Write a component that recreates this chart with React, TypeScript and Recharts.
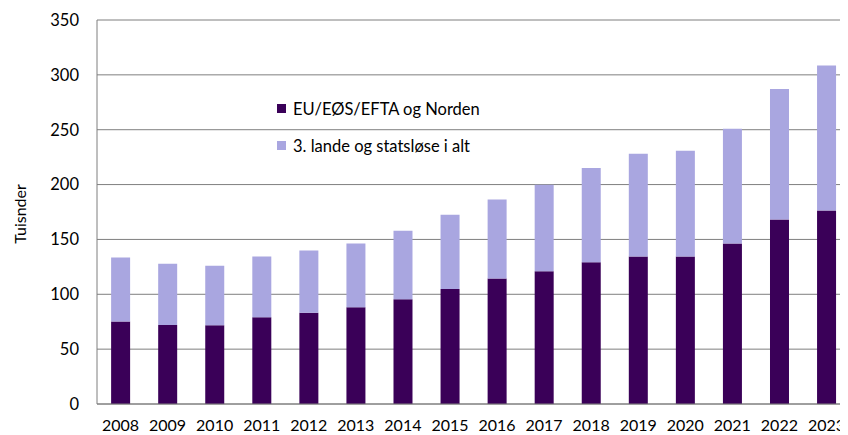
import React from "react";
import { BarChart, Bar, XAxis, YAxis, CartesianGrid, Legend } from "recharts";

const years = ["2008","2009","2010","2011","2012","2013","2014","2015","2016","2017","2018","2019","2020","2021","2022","2023"];
const euNorden = [75.3, 72.0, 71.7, 79.0, 83.2, 88.1, 95.4, 104.8, 114.5, 120.9, 129.1, 134.5, 134.5, 146.4, 168.2, 176.4];
const tredjeLande = [58.3, 55.9, 54.3, 55.5, 56.8, 58.3, 62.5, 67.7, 71.9, 78.9, 85.9, 93.5, 96.3, 104.4, 119.0, 132.1];
const yTicks = [0, 50, 100, 150, 200, 250, 300, 350];
const seriesKeys = ["eu", "tredje"];
const seriesNames = ["EU/EØS/EFTA og Norden", "3. lande og statsløse i alt"];

const data = years.map((y, i) => ({ year: y, eu: euNorden[i], tredje: tredjeLande[i] }));

const FONT = "Lato, 'Open Sans', sans-serif";
const DARK = "#3A0058";
const LIGHT = "#A9A6E0";

const renderLegend = (props: any) => {
  const payload = [...(props.payload || [])].sort(
    (a: any, b: any) => seriesKeys.indexOf(a.dataKey) - seriesKeys.indexOf(b.dataKey)
  );
  return (
    <div style={{ fontFamily: FONT, fontSize: 16.5, color: "#000" }}>
      {payload.map((p: any, i: number) => (
        <div key={i} style={{ display: "flex", alignItems: "center", height: 37, whiteSpace: "nowrap" }}>
          <span style={{ display: "inline-block", width: 9, height: 9, background: p.color, marginRight: 7 }} />
          <span>{p.value}</span>
        </div>
      ))}
    </div>
  );
};

const YLabel = () => (
  <text
    x={26}
    y={214}
    transform="rotate(-90 26 214)"
    textAnchor="middle"
    fontFamily={FONT}
    fontSize={16}
    fill="#000"
  >
    Tuisnder
  </text>
);

export default function App() {
  return (
    <div style={{ marginLeft: -8, marginTop: -8, width: 848, height: 435, overflow: "hidden" }}>
      <BarChart
        width={860}
        height={435}
        data={data}
        margin={{ top: 20, right: 10, bottom: 0, left: 0 }}
        barCategoryGap="30%"
      >
        <CartesianGrid vertical={false} stroke="#7f7f7f" strokeWidth={1} />
        <XAxis
          dataKey="year"
          height={31}
          tickLine={false}
          tickSize={0}
          tickMargin={16}
          axisLine={{ stroke: "#7f7f7f" }}
          tick={{ fontFamily: FONT, fontSize: 16, fill: "#000" }}
          interval={0}
        />
        <YAxis
          width={97}
          domain={[0, 350]}
          ticks={yTicks}
          tickLine={false}
          tickSize={0}
          tickMargin={18}
          axisLine={{ stroke: "#7f7f7f" }}
          tick={{ fontFamily: FONT, fontSize: 16.5, fill: "#000" }}
          label={<YLabel />}
        />
        <Legend
          layout="vertical"
          align="center"
          verticalAlign="middle"
          content={renderLegend}
          wrapperStyle={{ left: 277, top: 90, width: "auto" }}
        />
        <Bar dataKey="eu" name={seriesNames[0]} stackId="a" fill={DARK} isAnimationActive={false} />
        <Bar dataKey="tredje" name={seriesNames[1]} stackId="a" fill={LIGHT} isAnimationActive={false} />
      </BarChart>
    </div>
  );
}
